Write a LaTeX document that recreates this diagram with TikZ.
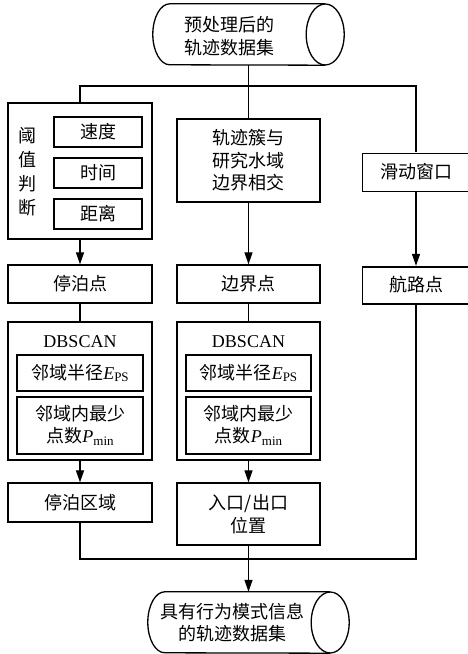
\documentclass[tikz,border=0pt]{standalone}
\usepackage{fontspec}
\setmainfont{Liberation Serif}
\newfontfamily\cjk{Noto Sans CJK SC}
\usetikzlibrary{arrows.meta}
\newcommand\epsmath{{\rmfamily\itshape E\/}{\rmfamily\fontsize{13}{13}\selectfont\raisebox{-0.45ex}{PS}}}
\newcommand\pminmath{{\rmfamily\itshape P\/}{\rmfamily\fontsize{13}{13}\selectfont\raisebox{-0.45ex}{min}}}
\begin{document}
\begin{tikzpicture}[x=1pt,y=1pt,
  box/.style={draw,line width=1.3pt,rectangle,inner sep=0pt,align=center,font=\cjk\fontsize{18}{22.5}\selectfont},
  cutbox/.style={box,draw=none},
  ibox/.style={box,line width=2pt},
  arr/.style={line width=1.3pt,-{Triangle[length=12pt,width=8pt]}},
  ln/.style={line width=1.3pt},
  txt/.style={inner sep=0pt,align=center,font=\cjk\fontsize{18}{22.5}\selectfont},
  body/.style={rectangle,inner sep=0pt,minimum height=61pt}]
\useasboundingbox (0,0) rectangle (468,654);
\clip (0,0) rectangle (468,654);

% top cylinder
\node[body,minimum width=191pt] (src) at (248.5,619.5) {};
\draw[ln] ([xshift=-19pt]src.north east) -- ([xshift=17pt]src.north west)
  arc[start angle=90,end angle=270,x radius=17pt,y radius=30.5pt] -- ([xshift=-19pt]src.south east);
\draw[ln] ([xshift=-19pt]src.east) ellipse[x radius=19pt,y radius=30.5pt];
\node[txt] (srct) at (229,618) {预处理后的\\轨迹数据集};

% threshold box
\node[box,minimum width=144pt,minimum height=136pt] (thr) at (80,483) {};
\node[txt,font=\cjk\fontsize{18}{24}\selectfont] (thrt) at (28,482) {阈\\值\\判\\断};
\node[box,minimum width=88pt,minimum height=30pt] (spd) at (98,522) {速度};
\node[box,minimum width=88pt,minimum height=30pt] (tim) at (98,481) {时间};
\node[box,minimum width=88pt,minimum height=30pt] (dis) at (98,440) {距离};

% middle box
\node[box,minimum width=143pt,minimum height=83pt] (mid) at (248.5,493.5) {轨迹簇与\\研究水域\\边界相交};
% sliding window (cut by the right edge)
\node[cutbox,minimum width=106pt,minimum height=38pt] (slide) at (416,482) {滑动窗口};
\draw[ln] (slide.south west) rectangle ++(120,38);

% points row
\node[box,minimum width=144pt,minimum height=38pt] (stp) at (80,370) {停泊点};
\node[box,minimum width=143pt,minimum height=38pt] (bnd) at (248.5,370) {边界点};
\node[cutbox,minimum width=106pt,minimum height=37pt] (rte) at (416,369) {航路点};
\draw[ln] (rte.south west) rectangle ++(120,37);

% DBSCAN boxes
\node[box,minimum width=144pt,minimum height=138pt] (db1) at (80,263) {};
\node[inner sep=0pt,font=\rmfamily\fontsize{18}{22}\selectfont] (db1t) at (80,312) {DBSCAN};
\node[ibox,minimum width=126pt,minimum height=36pt] (eps1) at (80,281) {邻域半径\epsmath};
\node[ibox,minimum width=126pt,minimum height=57pt] (pm1) at (80,228.5) {邻域内最少\\点数\pminmath};

\node[box,minimum width=143pt,minimum height=138pt] (db2) at (248.5,263) {};
\node[inner sep=0pt,font=\rmfamily\fontsize{18}{22}\selectfont] (db2t) at (248.5,312) {DBSCAN};
\node[ibox,minimum width=125pt,minimum height=36pt] (eps2) at (248.5,281) {邻域半径\epsmath};
\node[ibox,minimum width=125pt,minimum height=57pt] (pm2) at (248.5,228.5) {邻域内最少\\点数\pminmath};

% results
\node[box,minimum width=144pt,minimum height=39pt] (reg) at (80,151.5) {停泊区域};
\node[box,minimum width=143pt,minimum height=62pt] (ent) at (248.5,140) {入口/出口\\位置};

% bottom cylinder
\node[body,minimum width=201pt] (dst) at (248.5,31.5) {};
\draw[ln] ([xshift=-19pt]dst.north east) -- ([xshift=17pt]dst.north west)
  arc[start angle=90,end angle=270,x radius=17pt,y radius=30.5pt] -- ([xshift=-19pt]dst.south east);
\draw[ln] ([xshift=-19pt]dst.east) ellipse[x radius=19pt,y radius=30.5pt];
\node[txt] (dstt) at (232,31.5) {具有行为模式信息\\的轨迹数据集};

% connectors
\coordinate (j1) at (248.5,568);
\coordinate (j2) at (248.5,95);
\draw[ln] (src.south) -- (mid.north);
\draw[ln] (j1) -| (thr.north);
\draw[ln] (j1) -| (slide.north);
\draw[arr] (thr.south) -- (stp.north);
\draw[arr] (mid.south) -- (bnd.north);
\draw[arr] (slide.south) -- (rte.north);
\draw[ln] (stp.south) -- (db1.north);
\draw[ln] (bnd.south) -- (db2.north);
\draw[arr] (db1.south) -- (reg.north);
\draw[arr] (db2.south) -- (ent.north);
\draw[ln] (reg.south) |- (j2);
\draw[ln] (rte.south) |- (j2);
\draw[arr] (ent.south) -- (dst.north);
\end{tikzpicture}
\end{document}
